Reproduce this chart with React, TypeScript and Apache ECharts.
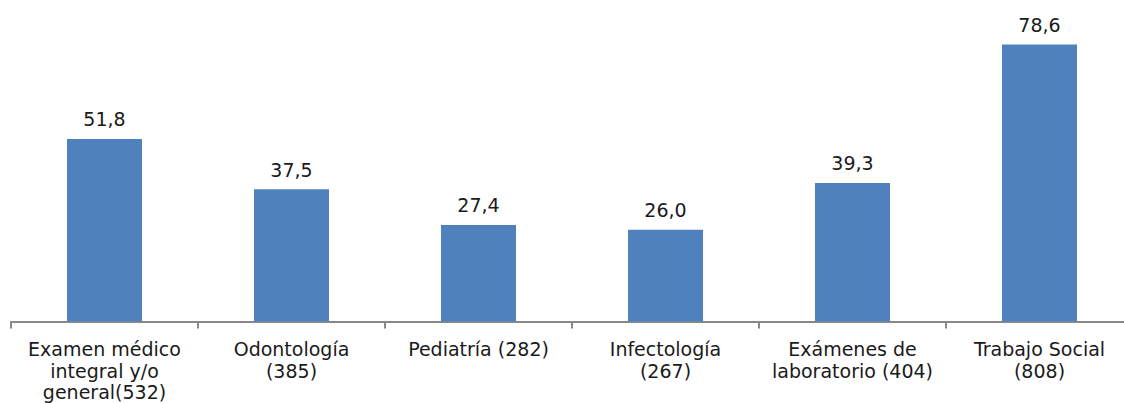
import React, { useEffect, useRef } from "react";
import * as echarts from "echarts";

const categories = [
  "Examen médico\nintegral y/o\ngeneral(532)",
  "Odontología\n(385)",
  "Pediatría (282)",
  "Infectología\n(267)",
  "Exámenes de\nlaboratorio (404)",
  "Trabajo Social\n(808)",
];
const values = [51.8, 37.5, 27.4, 26.0, 39.3, 78.6];

export default function App() {
  const ref = useRef<HTMLDivElement>(null);
  useEffect(() => {
    const chart = echarts.init(ref.current!, null, { renderer: "svg" });
    chart.setOption({
      animation: false,
      grid: { left: 11, top: 4.3, width: 1122, height: 321.7, containLabel: false },
      xAxis: {
        type: "category",
        data: categories,
        axisLine: { lineStyle: { color: "#888888", width: 2 } },
        axisTick: { show: true, length: 7, lineStyle: { color: "#888888", width: 2 } },
        axisLabel: {
          interval: 0,
          margin: 17,
          color: "#1a1a1a",
          fontFamily: "DejaVu Sans",
          fontSize: 19,
          lineHeight: 21.5,
          align: "center",
        },
      },
      yAxis: {
        type: "value",
        min: 0,
        max: 90,
        show: false,
        splitLine: { show: false },
      },
      series: [
        {
          type: "bar",
          data: values,
          barWidth: 75,
          itemStyle: { color: "#4F81BD" },
          label: {
            show: true,
            position: "top",
            distance: 10,
            color: "#1a1a1a",
            fontFamily: "DejaVu Sans",
            fontSize: 19,
            formatter: (p: any) => p.value.toFixed(1).replace(".", ","),
          },
        },
      ],
    });
    return () => chart.dispose();
  }, []);
  return (
    <div style={{ position: "fixed", left: 0, top: 0, width: 1124, height: 403, overflow: "hidden", background: "#fff" }}>
      <div ref={ref} style={{ width: 1140, height: 403 }} />
    </div>
  );
}
